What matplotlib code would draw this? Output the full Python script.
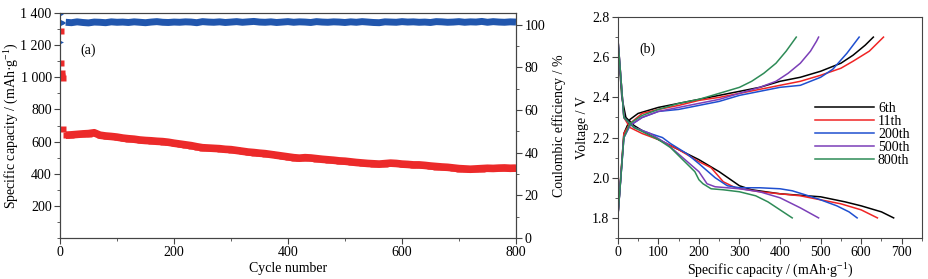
import matplotlib.pyplot as plt
import numpy as np
from matplotlib.ticker import MultipleLocator

plt.rcParams['font.family'] = ['Liberation Serif', 'DejaVu Serif']
plt.rcParams['font.size'] = 10
plt.rcParams['mathtext.fontset'] = 'custom'
plt.rcParams['mathtext.rm'] = 'Liberation Serif'
plt.rcParams['mathtext.it'] = 'Liberation Serif:italic'

# ---- (a) cycling data ----
first_cycles = [1, 2, 3, 4, 5, 6]
first_cap = [1290, 1090, 1030, 1010, 995, 680]
first_ce = [105, 92, 101.5, 101, 101.2, 101]

cycles = list(range(10, 801, 10))
capacity = [640, 642, 645, 648, 650, 655, 640, 635, 632, 628,
             622, 618, 615, 610, 607, 605, 602, 600, 596, 590,
             585, 580, 575, 568, 562, 560, 558, 556, 552, 550,
             545, 540, 535, 532, 528, 525, 520, 515, 510, 505,
             500, 497, 500, 498, 494, 490, 487, 484, 480, 478,
             474, 470, 467, 464, 462, 460, 463, 466, 464, 460,
             458, 455, 455, 452, 448, 445, 442, 440, 436, 432,
             430, 428, 430, 432, 434, 433, 435, 436, 434, 435]
ce = [101.2, 101.0, 101.4, 101.1, 100.9, 101.3, 101.2, 101.0, 101.4, 101.2,
      101.3, 101.1, 101.4, 101.2, 101.0, 101.3, 101.5, 101.2, 101.1, 101.3,
      101.2, 101.4, 101.3, 101.0, 101.5, 101.3, 101.2, 101.4, 101.1, 101.3,
      101.5, 101.2, 101.4, 101.6, 101.3, 101.2, 101.4, 101.1, 101.3, 101.5,
      101.2, 101.4, 101.3, 101.1, 101.5, 101.3, 101.2, 101.4, 101.3, 101.1,
      101.4, 101.2, 101.5, 101.3, 101.1, 101.0, 101.4, 101.3, 101.2, 101.5,
      101.3, 101.4, 101.2, 101.3, 101.1, 101.5, 101.4, 101.2, 101.3, 101.5,
      101.2, 101.4, 101.3, 101.6, 101.2, 101.5, 101.3, 101.2, 101.4, 101.3]

# ---- (b) charge / discharge profiles ----
labels = ['6th', '11th', '200th', '500th', '800th']
colors = ['black', '#f02424', '#1f4fd0', '#7b3fb8', '#2e8b57']

dis_cap = [
    [0, 10, 20, 40, 80, 120, 160, 200, 250, 300, 330, 400, 500, 560, 600, 650, 680],
    [0, 15, 30, 60, 100, 150, 200, 230, 260, 290, 350, 400, 450, 500, 550, 600, 640],
    [0, 15, 40, 80, 110, 130, 170, 200, 240, 270, 300, 350, 400, 430, 470, 500, 540, 570, 590],
    [0, 15, 40, 80, 120, 160, 200, 220, 240, 300, 350, 400, 450, 495],
    [0, 15, 40, 100, 130, 160, 190, 200, 210, 230, 260, 300, 340, 370, 400, 430],
]
dis_v = [
    [2.68, 2.40, 2.30, 2.26, 2.21, 2.17, 2.13, 2.09, 2.03, 1.96, 1.94, 1.92, 1.905, 1.88, 1.86, 1.83, 1.80],
    [2.70, 2.30, 2.25, 2.22, 2.19, 2.14, 2.08, 2.05, 1.98, 1.95, 1.93, 1.92, 1.91, 1.89, 1.87, 1.84, 1.80],
    [2.70, 2.30, 2.25, 2.22, 2.20, 2.17, 2.12, 2.07, 2.00, 1.96, 1.95, 1.95, 1.945, 1.935, 1.91, 1.89, 1.86, 1.83, 1.80],
    [2.70, 2.30, 2.25, 2.22, 2.17, 2.10, 2.03, 1.97, 1.955, 1.945, 1.93, 1.90, 1.85, 1.80],
    [2.70, 2.30, 2.25, 2.19, 2.15, 2.09, 2.03, 1.99, 1.97, 1.945, 1.94, 1.93, 1.91, 1.88, 1.84, 1.80],
]
chg_cap = [
    [0, 15, 30, 50, 100, 150, 200, 250, 300, 350, 400, 450, 500, 550, 580, 610, 630],
    [0, 15, 30, 60, 100, 150, 200, 250, 300, 350, 400, 450, 500, 550, 580, 620, 640, 655],
    [0, 15, 30, 60, 100, 150, 200, 250, 300, 350, 400, 450, 500, 530, 565, 580, 595],
    [0, 15, 30, 60, 100, 150, 200, 250, 300, 350, 390, 420, 450, 475, 490, 495],
    [0, 15, 30, 60, 100, 150, 200, 250, 300, 330, 360, 390, 415, 440],
]
chg_v = [
    [1.80, 2.22, 2.29, 2.32, 2.35, 2.37, 2.39, 2.41, 2.43, 2.45, 2.48, 2.50, 2.53, 2.57, 2.61, 2.66, 2.70],
    [1.80, 2.22, 2.27, 2.32, 2.34, 2.36, 2.385, 2.40, 2.42, 2.44, 2.46, 2.48, 2.51, 2.545, 2.58, 2.63, 2.67, 2.70],
    [1.80, 2.20, 2.26, 2.30, 2.33, 2.34, 2.36, 2.38, 2.41, 2.43, 2.45, 2.46, 2.50, 2.54, 2.62, 2.66, 2.70],
    [1.80, 2.20, 2.26, 2.30, 2.33, 2.35, 2.37, 2.39, 2.42, 2.45, 2.48, 2.52, 2.57, 2.63, 2.68, 2.70],
    [1.80, 2.20, 2.27, 2.31, 2.34, 2.37, 2.39, 2.42, 2.45, 2.48, 2.52, 2.57, 2.63, 2.70],
]

red = '#ec2a2a'
blue = '#2156ad'
spine_col = '#444444'
unit = '(mAh\u00b7g$^{-1}$)'

fig = plt.figure(figsize=(9.29, 2.79), dpi=100)

# ---------- panel (a) ----------
ax = fig.add_axes([0.0646, 0.147, 0.4908, 0.806])
ax.plot(first_cycles, first_cap, 's', color=red, ms=4, mec='none')
ax.plot(cycles, capacity, '-', color=red, lw=5.5, solid_capstyle='butt')
ax.plot(cycles, capacity, 's', color=red, ms=5, mec='none')
ax.set_xlim(0, 800)
ax.set_ylim(0, 1400)
ax.xaxis.set_major_locator(MultipleLocator(200))
ax.xaxis.set_minor_locator(MultipleLocator(100))
ax.yaxis.set_minor_locator(MultipleLocator(100))
ax.set_yticks([200, 400, 600, 800, 1000, 1200, 1400])
ax.set_yticklabels(['200', '400', '600', '800', '1 000', '1 200', '1 400'])
ax.set_xlabel('Cycle number', labelpad=2)
ax.set_ylabel('Specific capacity / ' + unit)
ax.yaxis.set_label_coords(-0.086, 0.5)
ax.text(0.044, 0.82, '(a)', transform=ax.transAxes)

ax2 = ax.twinx()
ax2.plot(first_cycles, first_ce, '>', color=blue, ms=3.5, mec='none')
ax2.plot(cycles, ce, '-', color=blue, lw=5, solid_capstyle='butt')
ax2.set_ylim(0, 105.5)
ax2.yaxis.set_major_locator(MultipleLocator(20))
ax2.yaxis.set_minor_locator(MultipleLocator(10))
ax2.set_ylabel('Coulombic efficiency / %', labelpad=5)

for a in (ax, ax2):
    for s in a.spines.values():
        s.set_color(spine_col)
    a.tick_params(which='both', direction='out', color=spine_col, pad=2)
    a.tick_params(which='major', length=4)
    a.tick_params(which='minor', length=2)

# ---------- panel (b) ----------
bx = fig.add_axes([0.665, 0.147, 0.3275, 0.792])
for i in range(len(labels)):
    bx.plot(dis_cap[i], dis_v[i], '-', color=colors[i], lw=1.1)
    bx.plot(chg_cap[i], chg_v[i], '-', color=colors[i], lw=1.1, label=labels[i])
bx.set_xlim(0, 750)
bx.set_ylim(1.7, 2.8)
bx.xaxis.set_major_locator(MultipleLocator(100))
bx.xaxis.set_minor_locator(MultipleLocator(50))
bx.yaxis.set_minor_locator(MultipleLocator(0.1))
bx.set_yticks([1.8, 2.0, 2.2, 2.4, 2.6, 2.8])
bx.set_xlabel('Specific capacity / ' + unit, labelpad=2)
bx.set_ylabel('Voltage / V', labelpad=2)
bx.text(0.07, 0.84, '(b)', transform=bx.transAxes)
bx.legend(loc='center right', bbox_to_anchor=(1.0, 0.47), frameon=False,
          handlelength=4.2, handletextpad=0.3, labelspacing=0.0)
for s in bx.spines.values():
    s.set_color(spine_col)
bx.tick_params(which='both', direction='out', color=spine_col, pad=2)
bx.tick_params(which='major', length=4)
bx.tick_params(which='minor', length=2)

fig.savefig('out.png', dpi=100)
